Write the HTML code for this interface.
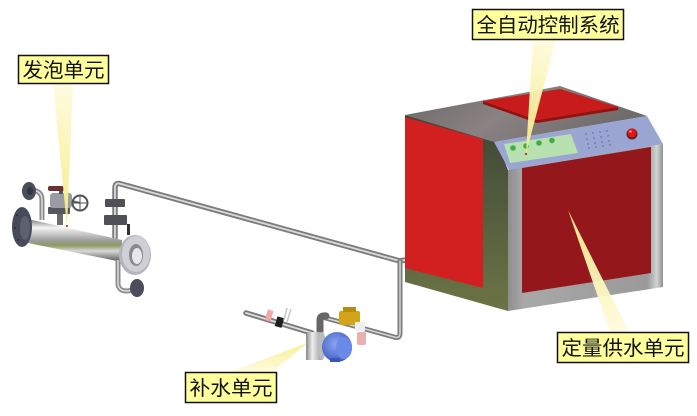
<!DOCTYPE html>
<html><head><meta charset="utf-8">
<style>
html,body{margin:0;padding:0;background:#fff;}
svg{display:block;}
text{font-family:"Liberation Sans","Noto Sans CJK SC",sans-serif;}
</style></head>
<body>
<svg width="697" height="416" viewBox="0 0 697 416" xmlns="http://www.w3.org/2000/svg">
<defs>
 <linearGradient id="topg" x1="0" y1="0" x2="1" y2="0.3">
  <stop offset="0" stop-color="#6a6766"/><stop offset="0.5" stop-color="#8a8282"/><stop offset="1" stop-color="#6f6b6b"/>
 </linearGradient>
 <linearGradient id="sideg" x1="0" y1="0" x2="0" y2="1">
  <stop offset="0" stop-color="#3e4638"/><stop offset="1" stop-color="#6c7445"/>
 </linearGradient>
 <linearGradient id="frameg" x1="0" y1="0" x2="1" y2="0">
  <stop offset="0" stop-color="#8e8e8e"/><stop offset="0.1" stop-color="#a8a8a8"/><stop offset="0.9" stop-color="#9a9a9a"/><stop offset="0.96" stop-color="#d2d4d4"/><stop offset="1" stop-color="#909090"/>
 </linearGradient>
 <linearGradient id="cyl" x1="0" y1="0" x2="0" y2="1">
  <stop offset="0" stop-color="#6a6a6a"/><stop offset="0.22" stop-color="#f4f4f4"/><stop offset="0.5" stop-color="#a0a0a0"/><stop offset="0.62" stop-color="#8a9a60"/><stop offset="0.75" stop-color="#d8d8d8"/><stop offset="1" stop-color="#555"/>
 </linearGradient>
 <linearGradient id="pumpg" x1="0" y1="0" x2="1" y2="0">
  <stop offset="0" stop-color="#888"/><stop offset="0.4" stop-color="#eee"/><stop offset="1" stop-color="#999"/>
 </linearGradient>
 <linearGradient id="beam1" x1="0" y1="0" x2="0" y2="1">
  <stop offset="0" stop-color="#fffbe0"/><stop offset="1" stop-color="#f4ec80"/>
 </linearGradient>
 <linearGradient id="beam2" x1="0" y1="1" x2="0" y2="0">
  <stop offset="0" stop-color="#fffbe0"/><stop offset="1" stop-color="#f6ee8a"/>
 </linearGradient>
 <radialGradient id="motor" cx="0.45" cy="0.4" r="0.7">
  <stop offset="0" stop-color="#8aa6f4"/><stop offset="1" stop-color="#3a55b8"/>
 </radialGradient>
</defs>

<!-- pipes -->
<g fill="none" stroke-linecap="round" stroke-linejoin="round">
 <path d="M115 238 L115 188 Q115 182 121 184 L400 261 L405 260" stroke="#7c7c7c" stroke-width="5.5"/>
 <path d="M115 238 L115 188 Q115 182 121 184 L400 261 L405 260" stroke="#dadada" stroke-width="1.8"/>
 <path d="M400 261 L400 333 Q400 339 394 337 L322 317" stroke="#7c7c7c" stroke-width="5"/>
 <path d="M400 261 L400 333 Q400 339 394 337 L322 317" stroke="#d6d6d6" stroke-width="1.5"/>
 <path d="M246 313 L312 333" stroke="#7a7a7a" stroke-width="5.5"/>
 <path d="M246 313 L312 333" stroke="#dcdcdc" stroke-width="1.8"/>
 <path d="M320 332 L320 320 Q320 315 326 316" stroke="#666" stroke-width="7"/>
</g>

<!-- box left side -->
<polygon points="405,115 497,142 508,170 508,311 405,282" fill="url(#sideg)"/>
<polygon points="405,117 483,139 483,288 405,268" fill="#d21f1f"/>
<!-- top -->
<polygon points="405,115 560,86 647,116 494,142" fill="url(#topg)"/>
<!-- lid -->
<polygon points="483,101 537,120 618,107 618,110 537,123 483,104" fill="#961010"/>
<polygon points="483,101 560,89 618,107 537,120" fill="#c81c1c"/>
<!-- control panel -->
<polygon points="494,142 647,116 663,144 509,170" fill="#9aa5d2"/>
<polygon points="504,144 571,134 578,153 510,163" fill="#b8e0b0"/>
<g fill="#3cb043">
 <circle cx="513" cy="148" r="2.8"/><circle cx="526" cy="146" r="2.8"/><circle cx="539" cy="143" r="2.8"/><circle cx="552" cy="140.5" r="2.8"/>
</g>
<g fill="#6f78a8">
 <circle cx="586" cy="134" r="0.9"/><circle cx="593" cy="133" r="0.9"/><circle cx="600" cy="132" r="0.9"/><circle cx="607" cy="131" r="0.9"/>
 <circle cx="587" cy="139" r="0.9"/><circle cx="594" cy="138" r="0.9"/><circle cx="601" cy="137" r="0.9"/><circle cx="608" cy="136" r="0.9"/>
 <circle cx="588" cy="144" r="0.9"/><circle cx="595" cy="143" r="0.9"/><circle cx="602" cy="142" r="0.9"/><circle cx="609" cy="141" r="0.9"/>
 <circle cx="589" cy="148" r="0.9"/><circle cx="596" cy="147" r="0.9"/><circle cx="603" cy="146" r="0.9"/><circle cx="610" cy="145" r="0.9"/>
</g>
<circle cx="632" cy="134" r="5.5" fill="#5a2020"/>
<circle cx="632" cy="133" r="4.5" fill="#e41414"/>
<circle cx="630.5" cy="131.5" r="1.3" fill="#ff9090"/>
<!-- front frame -->
<polygon points="508,170 663,144 663,287 508,311" fill="url(#frameg)"/>
<polygon points="522,168 651,147 651,273 522,293" fill="#94171b"/>

<!-- foam unit -->
<path d="M32 190 Q42 191 42 200 L42 220" fill="none" stroke="#8c8c8c" stroke-width="5"/>
<path d="M32 190 Q42 191 42 200 L42 220" fill="none" stroke="#dcdcdc" stroke-width="1.5"/>
<ellipse cx="29" cy="191" rx="7" ry="9" fill="#4a4d5a"/>
<ellipse cx="30" cy="191" rx="3" ry="4" fill="#33353e"/>
<!-- valve -->
<rect x="57" y="208" width="6" height="17" fill="#6a6a6a"/>
<rect x="48" y="207" width="22" height="7" rx="1" fill="#55575f"/>
<rect x="50" y="193" width="22" height="15" rx="3" fill="#9a9ca2"/>
<rect x="59" y="189" width="4" height="5" fill="#555"/>
<rect x="48" y="186" width="16" height="5" rx="2" fill="#6b3030"/>
<path d="M72 201 L80 203" stroke="#666" stroke-width="2"/>
<circle cx="80" cy="203" r="7.5" fill="none" stroke="#50525a" stroke-width="2"/>
<path d="M73 203 L87 203 M80 196 L80 210" stroke="#50525a" stroke-width="1"/>
<!-- right riser flanges -->
<rect x="105" y="199" width="20" height="8" rx="1" fill="#4f5058"/>
<rect x="104" y="215" width="23" height="10" rx="1" fill="#4f5058"/>
<rect x="127" y="224" width="3" height="11" fill="#333"/>
<!-- cylinder -->
<polygon points="23,218 122,240 122,262 23,242" fill="url(#cyl)"/>
<ellipse cx="22" cy="227" rx="10" ry="20" fill="#474a58"/>
<ellipse cx="25" cy="228" rx="5" ry="12" fill="#5e6070"/>
<g fill="#222"><circle cx="17" cy="215" r="0.9"/><circle cx="15" cy="228" r="0.9"/><circle cx="18" cy="240" r="0.9"/></g>
<!-- bottom pipe -->
<path d="M118 260 L118 283 Q118 291 127 291 L134 290" fill="none" stroke="#8c8c8c" stroke-width="5"/>
<path d="M118 260 L118 283 Q118 291 127 291 L134 290" fill="none" stroke="#dcdcdc" stroke-width="1.5"/>
<ellipse cx="137" cy="288" rx="7" ry="9" fill="#4a4d5a"/>
<!-- right flange -->
<ellipse cx="135" cy="255" rx="16" ry="20" fill="#b4b4ba"/>
<ellipse cx="136" cy="254" rx="14" ry="18" fill="#cfcfd4"/>
<ellipse cx="136" cy="255" rx="7" ry="11" fill="#8a8a92"/>
<ellipse cx="137" cy="256" rx="5" ry="8" fill="#e8e8ec"/>

<!-- pump unit -->
<rect x="266" y="310" width="6" height="11" rx="1" fill="#f0a8a8" transform="rotate(16 269 316)"/>
<rect x="276" y="317" width="7" height="10" fill="#1e1e1e" transform="rotate(16 279 322)"/>
<path d="M284 320 L287 308 M287 322 L291 309" stroke="#c8c8c8" stroke-width="1.5"/>
<ellipse cx="316" cy="346" rx="10" ry="14" fill="#9a9a9a"/>
<rect x="306" y="332" width="16" height="28" fill="url(#pumpg)"/>
<ellipse cx="322" cy="346" rx="4" ry="14" fill="#bbb"/>
<ellipse cx="337" cy="347" rx="15" ry="15" fill="url(#motor)"/>
<ellipse cx="344" cy="348" rx="8" ry="11" fill="#6a8ae8"/>
<rect x="330" y="358" width="10" height="4" fill="#3a55b8"/>
<rect x="339" y="311" width="21" height="14" rx="2" fill="#d4a418"/>
<rect x="343" y="307" width="13" height="5" fill="#b88c10"/>
<rect x="355" y="322" width="10" height="9" fill="#efefef"/>
<rect x="357" y="332" width="9" height="13" rx="2" fill="#eab0b0"/>

<!-- callout beams -->
<polygon points="53,84 73,84 67,227" fill="url(#beam1)" opacity="0.95"/>
<polygon points="533,39 556,39 526,154" fill="url(#beam1)" opacity="0.95"/>
<polygon points="610,332 629,332 568,210" fill="url(#beam2)" opacity="0.95"/>
<polygon points="230,372 273,372 307,343" fill="url(#beam2)" opacity="0.95"/>
<circle cx="67" cy="226" r="1" fill="#c00"/>
<circle cx="526" cy="154" r="1" fill="#c00"/>

<!-- labels -->
<g stroke="#111" stroke-width="1.5" fill="#ffff9c">
 <rect x="18.5" y="55.5" width="90" height="28"/>
 <rect x="472.5" y="9.5" width="151" height="30"/>
 <rect x="557.5" y="332.5" width="131" height="30"/>
 <rect x="185.5" y="372.5" width="91" height="30"/>
</g>
<g fill="#111" font-size="20" text-anchor="middle">
 <text x="63.5" y="77" textLength="82" lengthAdjust="spacingAndGlyphs">发泡单元</text>
 <text x="548" y="32" textLength="143" lengthAdjust="spacingAndGlyphs">全自动控制系统</text>
 <text x="623" y="355" textLength="123" lengthAdjust="spacingAndGlyphs">定量供水单元</text>
 <text x="231" y="395" textLength="83" lengthAdjust="spacingAndGlyphs">补水单元</text>
</g>
</svg>
</body></html>
